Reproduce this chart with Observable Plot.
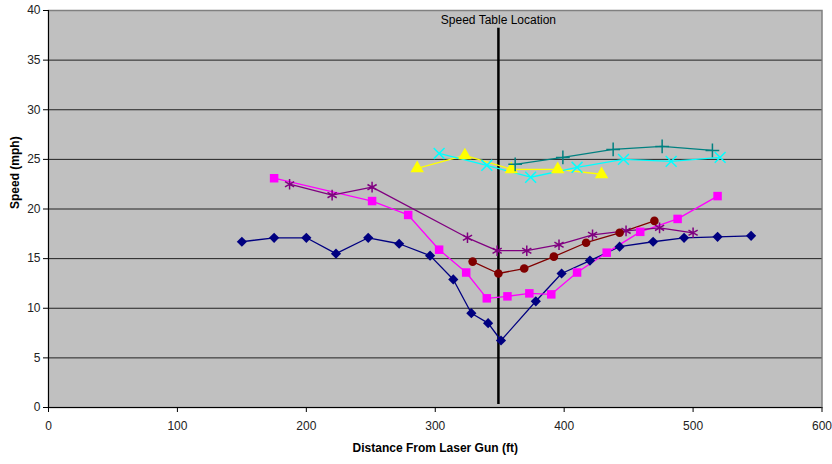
<!DOCTYPE html>
<html>
<head>
<meta charset="utf-8">
<script src="https://cdn.jsdelivr.net/npm/d3@7"></script>
<script src="https://cdn.jsdelivr.net/npm/@observablehq/plot@0.6"></script>
<style>
  html, body { margin: 0; padding: 0; background: #ffffff; }
  #chart { width: 832px; height: 464px; }
</style>
</head>
<body>
<div id="chart"></div>
<script>
// ---- data ----
const xTicks = [0, 100, 200, 300, 400, 500, 600];
const yTicks = [0, 5, 10, 15, 20, 25, 30, 35, 40];
const xLabel = "Distance From Laser Gun (ft)";
const yLabel = "Speed (mph)";
const tableX = 349;
const tableLabel = "Speed Table Location";

const s1x = [150, 175, 200, 223, 248, 272, 296, 314, 328, 341, 351, 378, 398, 420, 443, 469, 493, 519, 545];
const s1y = [16.7, 17.1, 17.1, 15.5, 17.1, 16.5, 15.3, 12.9, 9.5, 8.5, 6.75, 10.7, 13.5, 14.8, 16.2, 16.7, 17.1, 17.2, 17.3];

const s2x = [175, 251, 279, 303, 324, 340, 356, 373, 390, 410, 433, 459, 488, 519];
const s2y = [23.1, 20.8, 19.4, 15.9, 13.6, 11.0, 11.2, 11.5, 11.4, 13.6, 15.6, 17.7, 19.0, 21.3];

const s3x = [187, 220, 251, 325, 348, 371, 396, 422, 448, 474, 500];
const s3y = [22.5, 21.4, 22.2, 17.1, 15.8, 15.8, 16.4, 17.4, 17.8, 18.1, 17.6];

const s4x = [329, 349, 369, 392, 417, 443, 470];
const s4y = [14.7, 13.5, 14.0, 15.2, 16.6, 17.6, 18.8];

const s5x = [286, 323, 359, 395, 429];
const s5y = [24.1, 25.4, 24.0, 24.0, 23.5];

const s6x = [303, 340, 374, 410, 446, 483, 521];
const s6y = [25.6, 24.4, 23.2, 24.2, 25.0, 24.8, 25.2];

const s7x = [362, 399, 438, 476, 515];
const s7y = [24.5, 25.2, 26.0, 26.3, 25.9];

// ---- series styling ----
const series = [
  {x: s1x, y: s1y, color: "#000080", symbol: "diamond2", r: 4.6, filled: true},
  {x: s2x, y: s2y, color: "#FF00FF", symbol: "square", r: 4.8, filled: true},
  {x: s3x, y: s3y, color: "#800080", symbol: "asterisk", r: 5, filled: false},
  {x: s4x, y: s4y, color: "#800000", symbol: "circle", r: 4.3, filled: true},
  {x: s5x, y: s5y, color: "#FFFF00", symbol: "triangle", r: 5, filled: true},
  {x: s6x, y: s6y, color: "#00FFFF", symbol: "times", r: 5, filled: false},
  {x: s7x, y: s7y, color: "#008080", symbol: "plus", r: 4.5, filled: false}
];

const marks = [
  Plot.frame({fill: "#c0c0c0", stroke: "#808080", strokeWidth: 1.5}),
  Plot.gridY(yTicks.filter(d => d > 0 && d < 40), {stroke: "#222", strokeOpacity: 1, strokeWidth: 1}),
  Plot.ruleY([0], {stroke: "#000", strokeWidth: 1}),
  Plot.ruleX([0], {stroke: "#000", strokeWidth: 1}),
  Plot.axisX(xTicks, {tickSize: 5, tickPadding: 9, fontSize: 12, fill: "#222", label: null}),
  Plot.axisY(yTicks, {tickSize: 5, tickPadding: 3, fontSize: 12, fill: "#222", label: null}),
  Plot.ruleX([tableX], {y1: 0.3, y2: 38.2, stroke: "#000", strokeWidth: 2.5}),
  Plot.text([tableLabel], {x: tableX, y: 39.0, text: d => d, fontSize: 12, fill: "#000"}),
  Plot.text([yLabel], {frameAnchor: "left", dx: -33, rotate: -90, text: d => d, fontSize: 12, fontWeight: "bold", fill: "#000"}),
  Plot.text([xLabel], {frameAnchor: "bottom", dy: 44, text: d => d, fontSize: 12, fontWeight: "bold", fill: "#000"})
];

for (const s of series) {
  const data = s.x.map((x, i) => ({x, y: s.y[i]}));
  marks.push(Plot.line(data, {x: "x", y: "y", stroke: s.color, strokeWidth: 1.3}));
}
for (const s of series) {
  const data = s.x.map((x, i) => ({x, y: s.y[i]}));
  marks.push(Plot.dot(data, s.filled
    ? {x: "x", y: "y", symbol: () => s.symbol, r: s.r, fill: s.color, stroke: "none"}
    : {x: "x", y: "y", symbol: () => s.symbol, r: s.r, fill: "none", stroke: s.color, strokeWidth: 1.5}));
}

const chart = Plot.plot({
  width: 832,
  height: 464,
  marginLeft: 48,
  marginRight: 10.5,
  marginTop: 10,
  marginBottom: 57,
  style: {fontFamily: "'Liberation Sans', Arial, sans-serif", fontSize: "12px", background: "#ffffff", color: "#000"},
  x: {domain: [0, 600]},
  y: {domain: [0, 40]},
  symbol: {type: "identity"},
  marks
});
document.getElementById("chart").appendChild(chart);
</script>
</body>
</html>
